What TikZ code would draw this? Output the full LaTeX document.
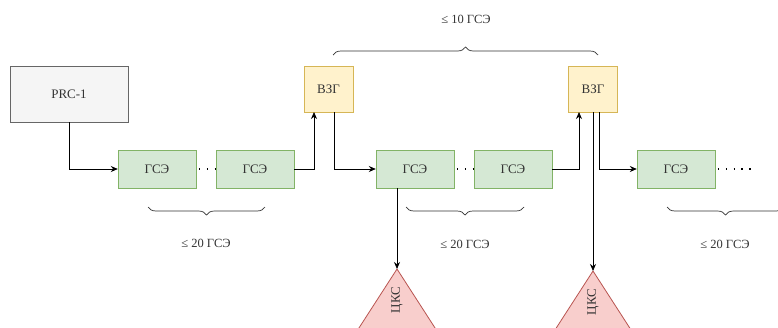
\documentclass[tikz,border=0pt]{standalone}
\usepackage{fontspec}
\setmainfont{Liberation Serif}
\usetikzlibrary{arrows.meta,decorations.pathreplacing}
\definecolor{grayfill}{HTML}{F5F5F5}
\definecolor{grayline}{HTML}{666666}
\definecolor{greenfill}{HTML}{D5E8D4}
\definecolor{greenline}{HTML}{82B366}
\definecolor{yellowfill}{HTML}{FFF2CC}
\definecolor{yellowline}{HTML}{D6B656}
\definecolor{redfill}{HTML}{F8CECC}
\definecolor{redline}{HTML}{B85450}
\definecolor{txt}{HTML}{333333}
\tikzset{
  prcbox/.style={draw=grayline,fill=grayfill,minimum width=118pt,minimum height=56pt,inner sep=0pt,font=\fontsize{13}{14}\selectfont,text=txt},
  gsebox/.style={draw=greenline,fill=greenfill,minimum width=78pt,minimum height=38pt,inner sep=0pt,font=\fontsize{13}{14}\selectfont,text=txt},
  vzgbox/.style={draw=yellowline,fill=yellowfill,minimum width=49pt,minimum height=46pt,inner sep=0pt,font=\fontsize{13}{14}\selectfont,text=txt},
  conn/.style={draw=black,line width=0.8pt,-{Stealth[length=7pt,width=6pt]}},
  dotline/.style={draw=black,line width=1.3pt,dash pattern=on 1.3pt off 6.5pt},
  tri/.style={draw=redline,fill=redfill,line width=0.8pt},
  trilbl/.style={font=\fontsize{13}{14}\selectfont,text=txt,rotate=90,inner sep=0pt},
  bracestyle/.style={draw=txt,line width=0.7pt,decorate,decoration={brace,amplitude=8pt}},
  lbl/.style={font=\fontsize{12.5}{14}\selectfont,text=txt,inner sep=0pt},
}
\begin{document}
\begin{tikzpicture}[x=1pt,y=-1pt]
\clip (0,0) rectangle (778,327);
\useasboundingbox (0,0) rectangle (778,327);
% boxes
\node[prcbox] (prc) at (69,94) {PRC-1};
\node[gsebox] (g1) at (157,169) {ГСЭ};
\node[gsebox] (g2) at (255,169) {ГСЭ};
\node[vzgbox] (v1) at (328.5,89) {ВЗГ};
\node[gsebox] (g3) at (415,169) {ГСЭ};
\node[gsebox] (g4) at (513,169) {ГСЭ};
\node[vzgbox] (v2) at (593,89) {ВЗГ};
\node[gsebox] (g5) at (676,169) {ГСЭ};
% triangles
\coordinate (t1) at (397,269);
\coordinate (t2) at (593,271);
\draw[tri] (t1) -- ++(40,62) -- ++(-80,0) -- cycle;
\draw[tri] (t2) -- ++(40,62) -- ++(-80,0) -- cycle;
\node[trilbl] (k1) at (397,300) {ЦКС};
\node[trilbl] (k2) at (593,302) {ЦКС};
% dots
\coordinate (d1) at (199,169);
\coordinate (d1b) at (216,169);
\draw[dotline] (d1) -- (d1b);
\coordinate (d2) at (457,169);
\coordinate (d2b) at (474,169);
\draw[dotline] (d2) -- (d2b);
\coordinate (d3) at (718,169);
\coordinate (d3b) at (752,169);
\draw[dotline] (d3) -- (d3b);
% connectors
\coordinate (c1) at (69,169);
\draw[conn] (prc.south) -- (c1) -- (g1.west);
\coordinate (c2) at (314,169);
\coordinate (c2t) at (314,112);
\draw[conn] (g2.east) -- (c2) -- (c2t);
\coordinate (c3a) at (334,112);
\coordinate (c3) at (334,169);
\draw[conn] (c3a) -- (c3) -- (g3.west);
\coordinate (c4) at (579,169);
\coordinate (c4t) at (579,112);
\draw[conn] (g4.east) -- (c4) -- (c4t);
\coordinate (c5a) at (599,112);
\coordinate (c5) at (599,169);
\draw[conn] (c5a) -- (c5) -- (g5.west);
\draw[conn] (g3.south -| t1) -- (t1);
\draw[conn] (v2.south) -- (t2);
% braces
\coordinate (b1a) at (333,55);
\coordinate (b1b) at (598,55);
\draw[bracestyle] (b1a) -- (b1b);
\node[lbl] (l1) at (466,19) {≤ 10 ГСЭ};
\coordinate (b2a) at (265,207);
\coordinate (b2b) at (148,207);
\draw[bracestyle] (b2a) -- (b2b);
\node[lbl] (l2) at (206,243) {≤ 20 ГСЭ};
\coordinate (b3a) at (524,207);
\coordinate (b3b) at (406,207);
\draw[bracestyle] (b3a) -- (b3b);
\node[lbl] (l3) at (465,244) {≤ 20 ГСЭ};
\coordinate (b4a) at (784,207);
\coordinate (b4b) at (667,207);
\draw[bracestyle] (b4a) -- (b4b);
\node[lbl] (l4) at (725,244) {≤ 20 ГСЭ};
\end{tikzpicture}
\end{document}
